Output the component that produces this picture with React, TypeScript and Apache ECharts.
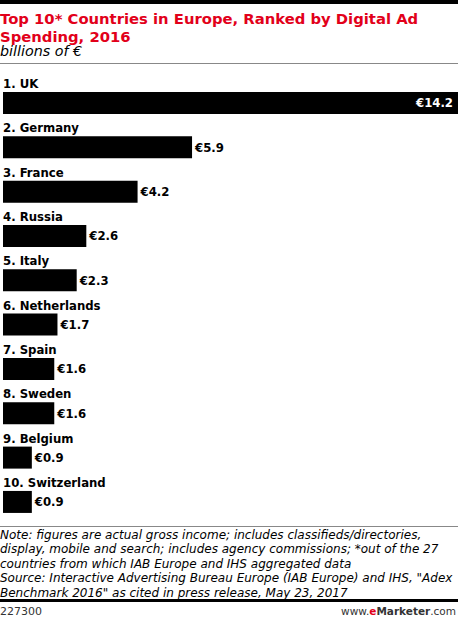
import React, { useEffect, useRef } from "react";
import * as echarts from "echarts";

const countries = [
  "1. UK",
  "2. Germany",
  "3. France",
  "4. Russia",
  "5. Italy",
  "6. Netherlands",
  "7. Spain",
  "8. Sweden",
  "9. Belgium",
  "10. Switzerland",
];
const spending = [14.2, 5.9, 4.2, 2.6, 2.3, 1.7, 1.6, 1.6, 0.9, 0.9];

const titleLines = ["Top 10* Countries in Europe, Ranked by Digital Ad", "Spending, 2016"];
const subtitle = "billions of €";
const noteLines = [
  "Note: figures are actual gross income; includes classifieds/directories,",
  "display, mobile and search; includes agency commissions; *out of the 27",
  "countries from which IAB Europe and IHS aggregated data",
  "Source: Interactive Advertising Bureau Europe (IAB Europe) and IHS, \"Adex",
  "Benchmark 2016\" as cited in press release, May 23, 2017",
];
const chartId = "227300";

const W = 458;
const H = 618;
const BOLD = "'DejaVu Sans Condensed', 'DejaVu Sans', sans-serif";
const REG = "'DejaVu Sans', sans-serif";

export default function App() {
  const ref = useRef<HTMLDivElement>(null);
  useEffect(() => {
    document.body.style.margin = "0";
    if (!ref.current) return;
    const chart = echarts.init(ref.current, null, { renderer: "svg" });
    const noteTexts = noteLines.map((t, i) => ({
      type: "text",
      style: {
        text: t,
        x: 0,
        y: 535 + i * 14.4,
        fontSize: 12,
        fontStyle: "italic",
        fontFamily: REG,
        fill: "#000",
        textVerticalAlign: "middle",
      },
    }));
    chart.setOption({
      animation: false,
      backgroundColor: "#fff",
      grid: { left: 0, right: 0, top: 80.8, bottom: 93.9, containLabel: false },
      xAxis: {
        type: "value",
        min: 0,
        max: 14.2,
        show: false,
      },
      yAxis: {
        type: "category",
        data: countries,
        inverse: true,
        axisLine: { show: false },
        axisTick: { show: false },
        splitLine: { show: false },
        axisLabel: {
          inside: true,
          margin: 0,
          align: "left",
          verticalAlign: "bottom",
          padding: [0, 0, 13, 0],
          fontSize: 13,
          fontWeight: "bold",
          fontFamily: BOLD,
          color: "#000",
        },
      },
      series: [
        {
          type: "bar",
          data: spending.map((v, i) =>
            i === 0
              ? {
                  value: v,
                  label: { position: "insideRight", color: "#fff", distance: 5 },
                }
              : v
          ),
          barWidth: 22,
          itemStyle: { color: "#000" },
          label: {
            show: true,
            position: "right",
            distance: 3,
            formatter: (p: any) => "€" + p.value.toFixed(1),
            fontSize: 13,
            fontWeight: "bold",
            fontFamily: BOLD,
            color: "#000",
          },
        },
      ],
      graphic: [
        ...titleLines.map((t, i) => ({
          type: "text",
          style: {
            text: t,
            x: 0,
            y: 18 + i * 18,
            fontSize: 14.8,
            fontWeight: "bold",
            fontFamily: REG,
            fill: "#e2001a",
            textVerticalAlign: "middle",
          },
        })),
        {
          type: "text",
          style: {
            text: subtitle,
            x: 0,
            y: 51,
            fontSize: 14.3,
            fontStyle: "italic",
            fontFamily: REG,
            fill: "#000",
            textVerticalAlign: "middle",
          },
        },
        { type: "rect", shape: { x: 0, y: 63, width: W, height: 1 }, style: { fill: "#888" } },
        { type: "rect", shape: { x: 0, y: 526, width: W, height: 1 }, style: { fill: "#888" } },
        ...noteTexts,
        { type: "rect", shape: { x: 0, y: 599, width: W, height: 3 }, style: { fill: "#000" } },
        {
          type: "text",
          style: {
            text: chartId,
            x: 0,
            y: 611,
            fontSize: 11,
            fontFamily: REG,
            fill: "#333",
            textVerticalAlign: "middle",
          },
        },
        {
          type: "text",
          style: {
            x: 456,
            y: 611,
            text: "{a|www.}{b|e}{c|Marketer}{a|.com}",
            textAlign: "right",
            textVerticalAlign: "middle",
            rich: {
              a: { fontSize: 10.5, fontFamily: REG, fill: "#333" },
              b: { fontSize: 10.5, fontFamily: REG, fontWeight: "bold", fill: "#e2001a" },
              c: { fontSize: 10.5, fontFamily: REG, fontWeight: "bold", fill: "#333" },
            },
          },
        },
        { type: "rect", z: 10, shape: { x: 0, y: 0, width: W, height: 4 }, style: { fill: "#000" } },
      ],
    });
    return () => chart.dispose();
  }, []);
  return (
    <div
      ref={ref}
      style={{ position: "fixed", left: 0, top: 0, width: W, height: H, background: "#fff" }}
    />
  );
}
